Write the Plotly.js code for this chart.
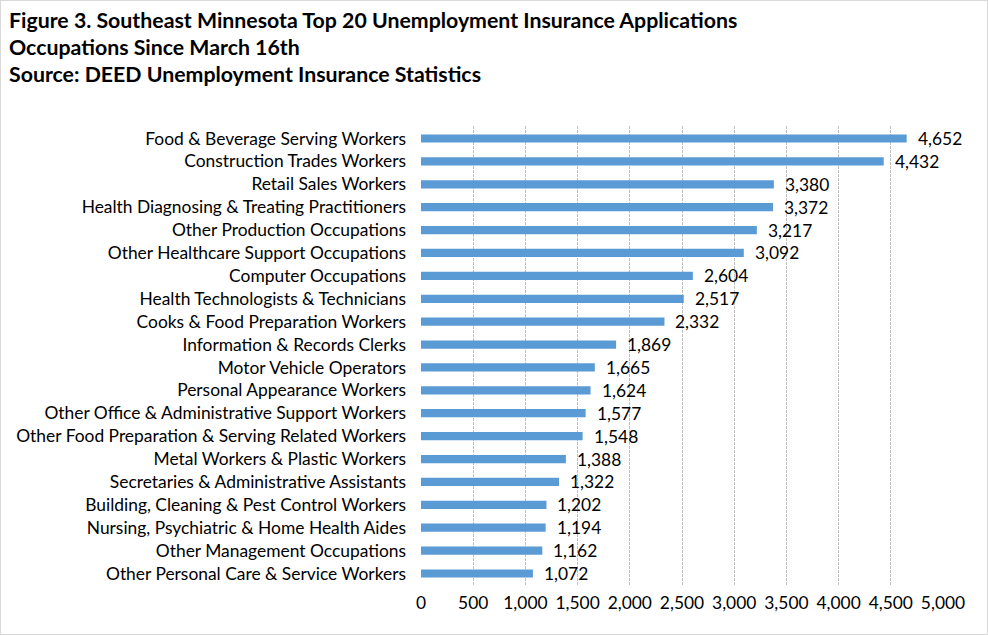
<!DOCTYPE html>
<html><head><meta charset="utf-8">
<script src="https://cdn.plot.ly/plotly-3.0.1.min.js"></script>
<style>html,body{margin:0;padding:0;background:#fff}#chart{width:986px;height:633px;border:1px solid #d9d9d9}</style>
</head><body><div id="chart"></div>
<script>
const categories = [
"Food & Beverage Serving Workers",
"Construction Trades Workers",
"Retail Sales Workers",
"Health Diagnosing & Treating Practitioners",
"Other Production Occupations",
"Other Healthcare Support Occupations",
"Computer Occupations",
"Health Technologists & Technicians",
"Cooks & Food Preparation Workers",
"Information & Records Clerks",
"Motor Vehicle Operators",
"Personal Appearance Workers",
"Other Office & Administrative Support Workers",
"Other Food Preparation & Serving Related Workers",
"Metal Workers & Plastic Workers",
"Secretaries & Administrative Assistants",
"Building, Cleaning & Pest Control Workers",
"Nursing, Psychiatric & Home Health Aides",
"Other Management Occupations",
"Other Personal Care & Service Workers"];
const values = [4652,4432,3380,3372,3217,3092,2604,2517,2332,1869,1665,1624,1577,1548,1388,1322,1202,1194,1162,1072];
const xTicks = [0,500,1000,1500,2000,2500,3000,3500,4000,4500,5000];
const titleLines = ["Figure 3. Southeast Minnesota Top 20 Unemployment Insurance Applications","Occupations Since March 16th","Source: DEED Unemployment Insurance Statistics"];

const FONT = "Lato, 'Open Sans', sans-serif";
const FS = 17.4;
const annotations = values.map((v,i)=>({
  x:v, y:categories[i], xref:'x', yref:'y', text:v.toLocaleString('en-US'),
  showarrow:false, xanchor:'left', xshift:9, font:{family:FONT,size:FS,color:'#000'}
}));
titleLines.forEach((t,i)=>annotations.push({
  x:0, y:0, xref:'paper', yref:'paper', text:'<b>'+t+'</b>', showarrow:false,
  xanchor:'left', yanchor:'middle', font:{family:FONT,size:21.3,color:'#000'}
}));
const data=[{type:'bar',orientation:'h',x:values,y:categories,marker:{color:'#5B9BD5'},hoverinfo:'none'}];
const W=986,H=633,ml=420,mr=44,mt=125,mb=48;
const pw=W-ml-mr, ph=H-mt-mb;
[19,46,73].forEach((py,k)=>{
  const a=annotations[values.length+k];
  a.x=(6-ml)/pw; a.y=(H-mb-py)/ph;
});
const layout={
  width:W,height:H,margin:{l:ml,r:mr,t:mt,b:mb},
  paper_bgcolor:'#fff',plot_bgcolor:'#fff',showlegend:false,bargap:0.64,
  font:{family:FONT,size:FS,color:'#000'},
  xaxis:{range:[0,5000],tickvals:xTicks,ticktext:xTicks.map(v=>v.toLocaleString('en-US')),
    showgrid:true,gridcolor:'#bfbfbf',griddash:'3px,1px',gridwidth:1,zeroline:false,showline:false,
    ticks:'',ticklabelstandoff:5,tickfont:{family:FONT,size:FS,color:'#000'},fixedrange:true},
  yaxis:{type:'category',categoryorder:'array',categoryarray:categories,autorange:'reversed',
    showgrid:false,zeroline:false,showline:false,ticks:'',ticklabelstandoff:14,
    tickfont:{family:FONT,size:FS,color:'#000'},fixedrange:true},
  annotations:annotations
};
Plotly.newPlot('chart',data,layout,{displayModeBar:false,staticPlot:true});
</script></body></html>
